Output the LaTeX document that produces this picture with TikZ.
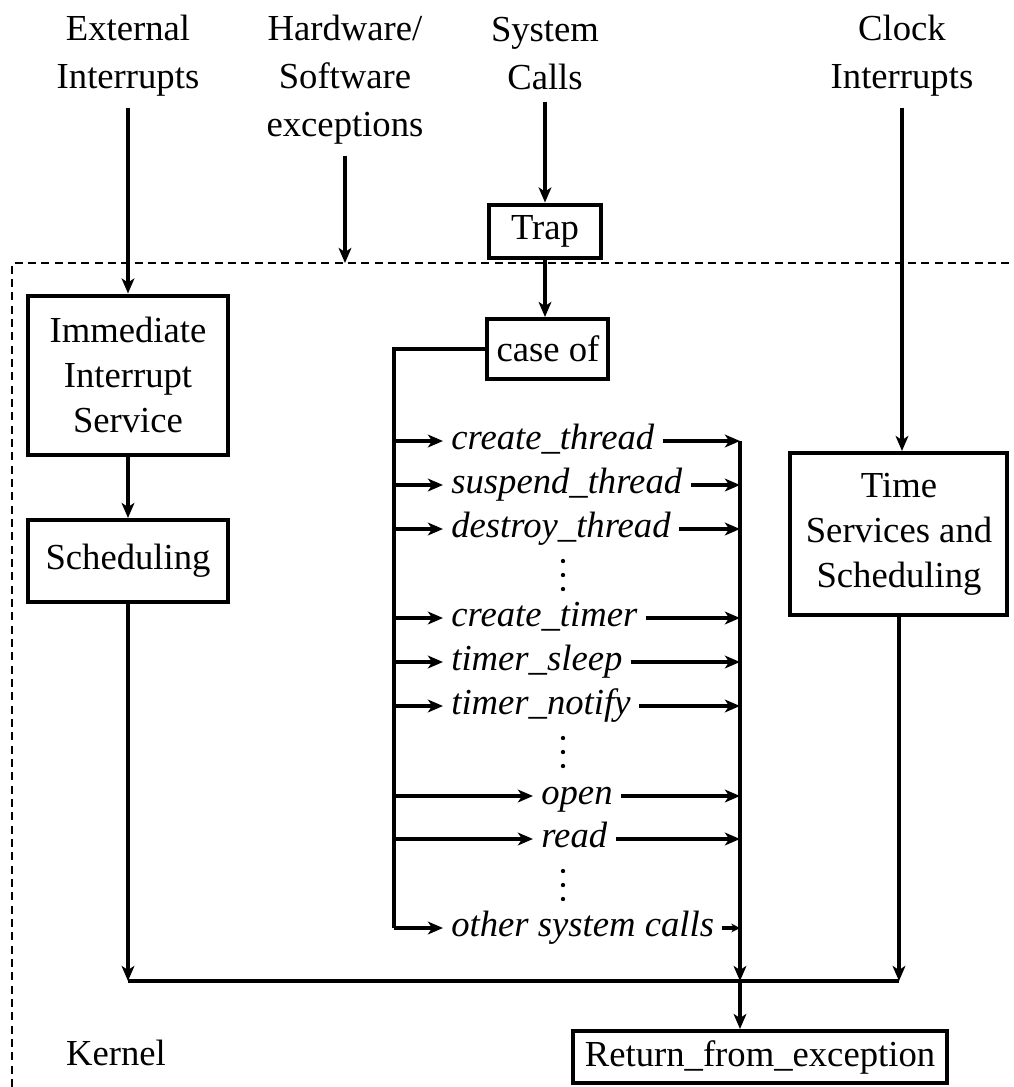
\documentclass[tikz,border=0pt]{standalone}
\usepackage{fontspec}
\setmainfont{Liberation Serif}
\usetikzlibrary{arrows.meta,positioning,calc}

\begin{document}
\begin{tikzpicture}[font=\fontsize{11}{13.5}\selectfont, >={Stealth[length=4.5pt,width=3.8pt,inset=1.2pt]}, x=0.3pt, y=-0.3pt, line width=1pt,
  box/.style={draw, line width=1.2pt, align=center, inner sep=2pt},
  src/.style={align=center, inner sep=3pt, anchor=north, font=\fontsize{11}{14.4}\selectfont},
  call/.style={anchor=west, inner sep=2pt, text height=7.5pt, text depth=2.5pt, font=\fontsize{11}{13.5}\selectfont\itshape},
  dot/.style={radius=0.65pt}]
\useasboundingbox (0,0) rectangle (1014,1087);
% kernel frame
\draw[line width=0.6pt, dash pattern=on 2.4pt off 1.6pt] (12,1087) -- (12,263) -- (1014,263);
\coordinate (ktop) at (12,263);
% sources
\node[src] (ext) at (128,3) {External\\Interrupts};
\node[src] (hw)  at (345,3) {Hardware/\\Software\\exceptions};
\node[src] (sys) at (545,6) {System\\Calls};
\node[src] (clk) at (902,3) {Clock\\Interrupts};
% boxes
\node[box, minimum width=33.6pt, minimum height=15.9pt] (trap) at (545,231) {Trap};
\node[box, minimum width=36.3pt, minimum height=18pt] (caseof) at (548,349) {case of};
\node[box, minimum width=60pt, minimum height=47.7pt] (iis) at (128,375) {Immediate\\Interrupt\\Service};
\node[box, minimum width=60pt, minimum height=24.6pt] (sched) at (128,561) {Scheduling};
\node[box, minimum width=65.1pt, minimum height=48.6pt] (tss) at (899,534) {Time\\Services and\\Scheduling};
\node[box, minimum width=112.5pt, minimum height=15.6pt] (ret) at (760,1057) {Return\_from\_exception};
\node[inner sep=3pt] (kern) at (116,1053) {Kernel};
% system calls
\node[call] (cth) at (443,441) {create\_thread};
\node[call] (sth) at (443,485) {suspend\_thread};
\node[call] (dth) at (443,529) {destroy\_thread};
\node[call] (ctm) at (443,618) {create\_timer};
\node[call] (tsl) at (443,662) {timer\_sleep};
\node[call] (tnt) at (443,706) {timer\_notify};
\node[call] (opn) at (533,796) {open};
\node[call] (rd)  at (533,839) {read};
\node[call] (oth) at (443,928) {other system calls};
% vertical dots
\fill[dot] (563,561) circle[] (563,575) circle[] (563,589) circle[];
\fill[dot] (563,738) circle[] (563,752) circle[] (563,766) circle[];
\fill[dot] (563,871) circle[] (563,885) circle[] (563,899) circle[];
\coordinate (lbus) at (394,928);
\coordinate (rbus) at (740,981);
% connectors
\draw[->] (ext) -- (iis);
\draw[->] (hw) -- (hw |- ktop);
\draw[->] (sys) -- (sys |- trap.north);
\draw[->] (trap) -- (trap |- caseof.north);
\draw[->] (clk) -- (clk |- tss.north);
\draw[->] (iis) -- (sched);
\draw (caseof.west) -| (lbus);
\draw[->] (lbus |- cth) -- (cth.west);
\draw[->] (lbus |- sth) -- (sth.west);
\draw[->] (lbus |- dth) -- (dth.west);
\draw[->] (lbus |- ctm) -- (ctm.west);
\draw[->] (lbus |- tsl) -- (tsl.west);
\draw[->] (lbus |- tnt) -- (tnt.west);
\draw[->] (lbus |- opn) -- (opn.west);
\draw[->] (lbus |- rd) -- (rd.west);
\draw[->] (lbus) -- (oth.west);
\draw[->] (cth.east) -- (rbus |- cth);
\draw[->] (sth.east) -- (rbus |- sth);
\draw[->] (dth.east) -- (rbus |- dth);
\draw[->] (ctm.east) -- (rbus |- ctm);
\draw[->] (tsl.east) -- (rbus |- tsl);
\draw[->] (tnt.east) -- (rbus |- tnt);
\draw[->] (opn.east) -- (rbus |- opn);
\draw[->] (rd.east) -- (rbus |- rd);
\draw[-{Stealth[length=2.6pt,width=2.6pt]}] (oth.east) -- (rbus |- oth);
\draw[->] (rbus |- cth) -- (rbus);
\draw[->] (rbus) -- (rbus |- ret.north);
\draw[->] (sched) -- (sched |- rbus);
\draw (sched |- rbus) -- (tss |- rbus);
\draw[->] (tss) -- (tss |- rbus);
\end{tikzpicture}
\end{document}
